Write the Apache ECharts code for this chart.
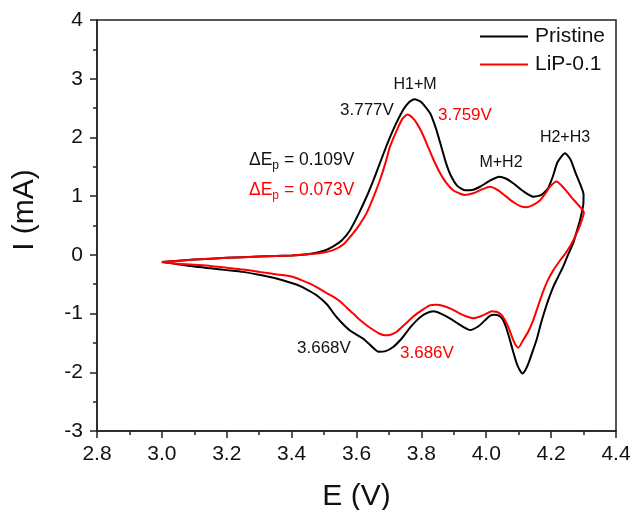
<!DOCTYPE html>
<html>
<head>
<meta charset="utf-8">
<script src="https://cdn.jsdelivr.net/npm/echarts@6/dist/echarts.min.js"></script>
<style>
  html, body { margin: 0; padding: 0; background: #fff; }
  #chart { width: 632px; height: 510px; }
</style>
</head>
<body>
<div id="chart"></div>
<script>
// Cyclic voltammograms: potential E (V) vs current I (mA), anodic sweep then cathodic return.
const seriesNames = ['Pristine', 'LiP-0.1'];

const pristineE = [
  3.000, 3.100, 3.200, 3.300, 3.400, 3.450, 3.500, 3.527, 3.555, 3.580, 3.605, 3.631, 3.652,
  3.672, 3.692, 3.713, 3.744, 3.762, 3.779, 3.800, 3.827, 3.845, 3.860, 3.875, 3.890, 3.910,
  3.934, 3.960, 3.981, 4.010, 4.040, 4.060, 4.083, 4.110, 4.145, 4.170, 4.190, 4.205, 4.220,
  4.243, 4.260, 4.275, 4.290, 4.300,
  4.299, 4.289, 4.278, 4.268, 4.252, 4.237, 4.222, 4.207, 4.193, 4.181, 4.168, 4.155, 4.142,
  4.130, 4.120, 4.112, 4.103, 4.094, 4.083, 4.073, 4.062, 4.052, 4.040, 4.025, 4.011, 3.995,
  3.975, 3.950, 3.930, 3.910, 3.888, 3.860, 3.837, 3.810, 3.785, 3.765, 3.740, 3.713, 3.690,
  3.668, 3.645, 3.621, 3.600, 3.580, 3.550, 3.530, 3.510, 3.480, 3.450, 3.430, 3.400, 3.350,
  3.300, 3.250, 3.200, 3.150, 3.100, 3.050, 3.000
];
const pristineI = [
  -0.12, -0.08, -0.05, -0.03, -0.01, 0.01, 0.07, 0.14, 0.25, 0.42, 0.68, 0.99, 1.27,
  1.56, 1.85, 2.13, 2.47, 2.60, 2.65, 2.60, 2.41, 2.15, 1.87, 1.58, 1.36, 1.18,
  1.10, 1.11, 1.16, 1.26, 1.33, 1.30, 1.22, 1.10, 0.99, 1.02, 1.13, 1.33, 1.58,
  1.73, 1.62, 1.40, 1.20, 1.03,
  0.85, 0.59, 0.38, 0.20, 0.00, -0.20, -0.37, -0.54, -0.74, -0.94, -1.18, -1.45, -1.66,
  -1.85, -1.97, -2.02, -1.96, -1.85, -1.65, -1.45, -1.25, -1.11, -1.04, -1.02, -1.04, -1.12,
  -1.22, -1.28, -1.23, -1.16, -1.08, -1.00, -0.96, -1.01, -1.12, -1.24, -1.42, -1.57, -1.64,
  -1.65, -1.55, -1.43, -1.36, -1.29, -1.13, -1.00, -0.85, -0.70, -0.60, -0.54, -0.48, -0.40,
  -0.34, -0.29, -0.26, -0.23, -0.20, -0.16, -0.12
];

const lipE = [
  3.000, 3.100, 3.200, 3.300, 3.400, 3.450, 3.490, 3.528, 3.560, 3.590, 3.610, 3.631, 3.652,
  3.672, 3.690, 3.703, 3.729, 3.742, 3.757, 3.772, 3.786, 3.800, 3.816, 3.835, 3.857, 3.875,
  3.898, 3.920, 3.934, 3.960, 3.985, 4.011, 4.037, 4.060, 4.083, 4.105, 4.125, 4.145, 4.166,
  4.183, 4.196, 4.217, 4.232, 4.248, 4.264, 4.279, 4.301,
  4.292, 4.279, 4.262, 4.245, 4.227, 4.207, 4.190, 4.177, 4.166, 4.155, 4.145, 4.130, 4.114,
  4.099, 4.090, 4.083, 4.073, 4.063, 4.052, 4.042, 4.030, 4.017, 4.001, 3.981, 3.960, 3.940,
  3.919, 3.895, 3.868, 3.846, 3.826, 3.800, 3.775, 3.750, 3.724, 3.705, 3.688, 3.670, 3.652,
  3.631, 3.611, 3.590, 3.570, 3.549, 3.528, 3.508, 3.480, 3.457, 3.430, 3.400, 3.350, 3.300,
  3.250, 3.200, 3.150, 3.100, 3.050, 3.000
];
const lipI = [
  -0.12, -0.08, -0.05, -0.03, -0.01, 0.01, 0.03, 0.08, 0.18, 0.37, 0.52, 0.71, 0.98,
  1.27, 1.58, 1.84, 2.18, 2.32, 2.39, 2.34, 2.24, 2.10, 1.90, 1.65, 1.40, 1.24,
  1.10, 1.04, 1.02, 1.05, 1.11, 1.16, 1.10, 1.00, 0.90, 0.83, 0.81, 0.85, 0.93,
  1.05, 1.16, 1.25, 1.18, 1.08, 0.97, 0.88, 0.72,
  0.55, 0.37, 0.18, 0.03, -0.10, -0.26, -0.43, -0.60, -0.77, -0.95, -1.11, -1.30, -1.45,
  -1.58, -1.53, -1.45, -1.30, -1.17, -1.06, -1.00, -0.97, -0.96, -1.00, -1.05, -1.08, -1.05,
  -1.00, -0.93, -0.87, -0.85, -0.86, -0.95, -1.05, -1.18, -1.31, -1.36, -1.37, -1.34, -1.28,
  -1.20, -1.11, -1.00, -0.90, -0.79, -0.71, -0.65, -0.56, -0.49, -0.43, -0.37, -0.33, -0.29,
  -0.25, -0.22, -0.19, -0.17, -0.15, -0.12
];

const xTicks = { min: 2.8, max: 4.4, step: 0.2 };
const yTicks = { min: -3, max: 4, step: 1 };

const FONT = 'Liberation Sans, Arial, sans-serif';
const INK = '#111';

function pairs(xs, ys) { return xs.map((x, i) => [x, ys[i]]); }

const chart = echarts.init(document.getElementById('chart'), null, { renderer: 'canvas' });

const axisCommon = {
  axisLine: { show: true, onZero: false, lineStyle: { color: '#222', width: 1.5 } },
  axisTick: { show: true, inside: false, length: 7, lineStyle: { color: '#222', width: 1.5 } },
  minorTick: { show: true, splitNumber: 2, length: 4, lineStyle: { color: '#222', width: 1.5 } },
  splitLine: { show: false },
  axisLabel: { color: INK, fontSize: 21, fontFamily: FONT }
};

chart.setOption({
  animation: false,
  backgroundColor: '#fff',
  grid: {
    left: 97, right: 16, top: 20, bottom: 79, containLabel: false, outerBoundsMode: 'none',
    show: true, borderColor: '#222', borderWidth: 1.5
  },
  legend: {
    orient: 'vertical', left: 480, top: 26, padding: 0, itemWidth: 48, itemHeight: 2, itemGap: 7,
    icon: 'rect',
    textStyle: { fontSize: 21, color: INK, fontFamily: FONT, padding: [0, 0, 0, 2] },
    data: seriesNames
  },
  xAxis: Object.assign({}, axisCommon, {
    type: 'value', min: xTicks.min, max: xTicks.max, interval: xTicks.step,
    axisLabel: Object.assign({}, axisCommon.axisLabel, { margin: 13, formatter: v => v.toFixed(1) }),
    name: 'E (V)', nameLocation: 'middle', nameGap: 51,
    nameTextStyle: { fontSize: 30, color: INK, fontFamily: FONT }
  }),
  yAxis: Object.assign({}, axisCommon, {
    type: 'value', min: yTicks.min, max: yTicks.max, interval: yTicks.step,
    axisLabel: Object.assign({}, axisCommon.axisLabel, { margin: 14 })
  }),
  series: [
    {
      name: seriesNames[0], type: 'line', data: pairs(pristineE, pristineI),
      smooth: 0.2, symbol: 'none', lineStyle: { color: '#000', width: 2 }, itemStyle: { color: '#000' }
    },
    {
      name: seriesNames[1], type: 'line', data: pairs(lipE, lipI),
      smooth: 0.2, symbol: 'none', lineStyle: { color: '#ff0000', width: 2 }, itemStyle: { color: '#ff0000' }
    }
  ],
  graphic: [
    { type: 'text', x: 25, y: 210, rotation: Math.PI / 2,
      style: { text: 'I (mA)', font: '30px ' + FONT, fill: INK, align: 'center', verticalAlign: 'middle' } },
    { type: 'text', x: 415, y: 85,
      style: { text: 'H1+M', font: '16px ' + FONT, fill: INK, align: 'center', verticalAlign: 'middle' } },
    { type: 'text', x: 340, y: 110,
      style: { text: '3.777V', font: '17px ' + FONT, fill: INK, align: 'left', verticalAlign: 'middle' } },
    { type: 'text', x: 438, y: 115,
      style: { text: '3.759V', font: '17px ' + FONT, fill: '#ff0000', align: 'left', verticalAlign: 'middle' } },
    { type: 'text', x: 501, y: 163,
      style: { text: 'M+H2', font: '16px ' + FONT, fill: INK, align: 'center', verticalAlign: 'middle' } },
    { type: 'text', x: 565, y: 138,
      style: { text: 'H2+H3', font: '16px ' + FONT, fill: INK, align: 'center', verticalAlign: 'middle' } },
    { type: 'text', x: 297, y: 348,
      style: { text: '3.668V', font: '17px ' + FONT, fill: INK, align: 'left', verticalAlign: 'middle' } },
    { type: 'text', x: 400, y: 353,
      style: { text: '3.686V', font: '17px ' + FONT, fill: '#ff0000', align: 'left', verticalAlign: 'middle' } },
    { type: 'text', x: 249, y: 151,
      style: {
        text: '{a|ΔE}{s|p}{a| = 0.109V}', fill: INK,
        rich: {
          a: { fontSize: 17.5, fontFamily: FONT, fill: INK, color: INK, lineHeight: 20, verticalAlign: 'top' },
          s: { fontSize: 12, fontFamily: FONT, fill: INK, color: INK, lineHeight: 20, padding: [9, 0, 0, 0], verticalAlign: 'top' }
        }
      } },
    { type: 'text', x: 249, y: 181,
      style: {
        text: '{a|ΔE}{s|p}{a| = 0.073V}', fill: '#ff0000',
        rich: {
          a: { fontSize: 17.5, fontFamily: FONT, fill: '#ff0000', color: '#ff0000', lineHeight: 20, verticalAlign: 'top' },
          s: { fontSize: 12, fontFamily: FONT, fill: '#ff0000', color: '#ff0000', lineHeight: 20, padding: [9, 0, 0, 0], verticalAlign: 'top' }
        }
      } }
  ]
});
</script>
</body>
</html>
